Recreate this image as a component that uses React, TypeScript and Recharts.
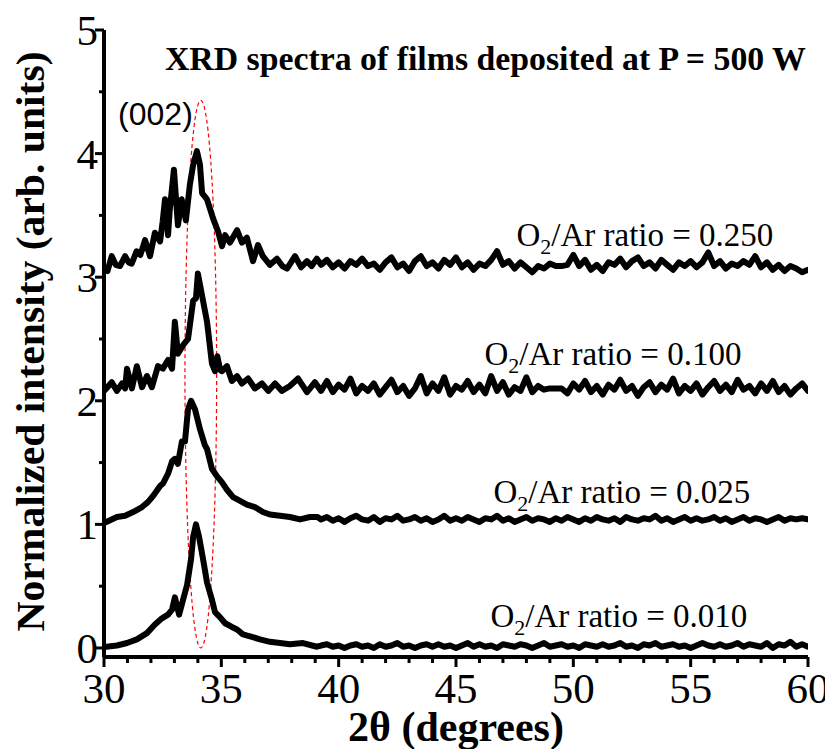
import React from 'react';
import { LineChart, Line, XAxis, YAxis, ReferenceArea, ReferenceDot } from 'recharts';

// ---- axis configuration ----
const X_DOMAIN: [number, number] = [30, 60];
const Y_DOMAIN: [number, number] = [-0.073, 5];
const X_TICKS = [30,31,32,33,34,35,36,37,38,39,40,41,42,43,44,45,46,47,48,49,50,51,52,53,54,55,56,57,58,59,60];
const Y_TICKS = [0,0.5,1,1.5,2,2.5,3,3.5,4,4.5,5];

// ---- peak regions (2θ, intensity) ----
const peak250: [number, number][] = [
  [30.0,3.07],[30.15,3.05],[30.33,3.17],[30.5,3.10],[30.68,3.09],[30.9,3.17],[31.05,3.12],[31.18,3.11],
  [31.39,3.21],[31.55,3.18],[31.67,3.25],[31.75,3.30],[31.96,3.17],[32.17,3.36],[32.39,3.29],[32.5,3.45],
  [32.6,3.63],[32.73,3.34],[32.8,3.54],[32.98,3.87],[33.15,3.42],[33.31,3.63],[33.49,3.46],[33.66,3.75],
  [33.8,3.91],[33.96,4.02],[34.09,3.91],[34.18,3.68],[34.39,3.63],[34.64,3.48],[34.86,3.37],[35.03,3.25],
  [35.16,3.34],[35.37,3.28],[35.67,3.38],[35.88,3.28],[36.09,3.32],[36.35,3.13],[36.56,3.26],[36.77,3.17],
  [37.07,3.10],[37.37,3.15],[37.6,3.09],[37.8,3.07],[38.14,3.17],[38.4,3.08],[38.65,3.13],[38.85,3.09],[39.07,3.15],
];
const peak100: [number, number][] = [
  [30.0,2.08],[30.1,2.10],[30.33,2.15],[30.55,2.08],[30.77,2.14],[30.9,2.10],[30.98,2.26],[31.19,2.10],
  [31.4,2.28],[31.62,2.11],[31.83,2.20],[32.04,2.11],[32.3,2.28],[32.51,2.26],[32.73,2.33],[32.9,2.26],
  [33.02,2.64],[33.15,2.38],[33.37,2.45],[33.58,2.50],[33.8,2.81],[33.92,2.83],[34.0,3.03],[34.18,2.85],
  [34.39,2.64],[34.6,2.30],[34.73,2.24],[34.83,2.36],[34.95,2.25],[35.03,2.24],[35.24,2.28],[35.45,2.16],
  [35.67,2.20],[35.88,2.14],[36.14,2.18],[36.43,2.10],[36.73,2.14],[37.0,2.08],[37.29,2.14],[37.58,2.08],
  [37.92,2.12],[38.27,2.18],[38.65,2.07],[38.99,2.15],
];
const peak025: [number, number][] = [
  [30.0,1.01],[30.1,1.02],[30.55,1.06],[30.9,1.07],[31.24,1.10],[31.62,1.14],[31.87,1.18],[32.09,1.23],
  [32.39,1.31],[32.51,1.33],[32.73,1.41],[32.9,1.51],[33.02,1.53],[33.15,1.49],[33.32,1.67],[33.45,1.67],
  [33.58,1.93],[33.71,2.00],[33.88,1.93],[34.09,1.77],[34.3,1.64],[34.39,1.61],[34.6,1.45],[34.81,1.39],
  [35.03,1.34],[35.24,1.28],[35.5,1.22],[35.8,1.19],[36.09,1.16],[36.43,1.14],[36.77,1.10],[37.07,1.08],
  [37.5,1.07],[37.92,1.06],[38.35,1.04],[38.78,1.06],[39.1,1.06],
];
const peak010: [number, number][] = [
  [30.0,0.01],[30.1,0.01],[30.55,0.02],[30.98,0.04],[31.4,0.07],[31.83,0.12],[32.17,0.19],[32.47,0.24],
  [32.73,0.27],[32.9,0.31],[33.02,0.41],[33.2,0.27],[33.37,0.39],[33.54,0.51],[33.71,0.72],[33.8,0.90],
  [33.92,1.00],[34.05,0.90],[34.22,0.72],[34.39,0.53],[34.6,0.39],[34.73,0.29],[34.94,0.25],[35.16,0.20],
  [35.45,0.17],[35.67,0.15],[35.92,0.11],[36.3,0.09],[36.65,0.07],[37.07,0.05],[37.5,0.04],[37.92,0.03],
  [38.48,0.04],[39.07,0.01],
];

// ---- flat tails, sampled from 39.25° to 60° every 0.25° ----
const TAIL_START = 39.25;
const TAIL_STEP = 0.25;
const tail250 = [
  3.10,3.14,3.08,3.12, 3.07,3.13,3.10,3.15, 3.09,3.11,3.06,3.12, 3.16,3.08,3.11,3.05,
  3.13,3.17,3.09,3.12, 3.07,3.14,3.10,3.16, 3.08,3.12,3.06,3.11, 3.09,3.14,3.21,3.10,
  3.13,3.07,3.12,3.08, 3.04,3.09,3.07,3.11, 3.09,3.09,3.10,3.18, 3.09,3.14,3.06,3.10,
  3.05,3.12,3.10,3.15, 3.08,3.13,3.16,3.09, 3.12,3.07,3.14,3.10, 3.06,3.12,3.09,3.13,
  3.08,3.12,3.20,3.09, 3.13,3.07,3.11,3.09, 3.13,3.10,3.17,3.08, 3.12,3.06,3.10,3.05,
  3.09,3.07,3.04,3.06,
];
const tail100 = [
  2.08,2.16,2.07,2.13, 2.09,2.18,2.06,2.12, 2.08,2.14,2.05,2.11, 2.17,2.07,2.12,2.04,
  2.10,2.20,2.06,2.14, 2.08,2.19,2.05,2.12, 2.09,2.16,2.07,2.13, 2.06,2.20,2.08,2.15,
  2.05,2.11,2.08,2.19, 2.07,2.12,2.09,2.10, 2.10,2.10,2.06,2.14, 2.09,2.16,2.07,2.12,
  2.05,2.13,2.09,2.17, 2.08,2.12,2.04,2.11, 2.15,2.07,2.13,2.09, 2.18,2.06,2.12,2.08,
  2.14,2.05,2.11,2.16, 2.08,2.13,2.07,2.17, 2.09,2.12,2.06,2.14, 2.08,2.16,2.07,2.12,
  2.05,2.10,2.14,2.08,
];
const tail025 = [
  1.04,1.06,1.03,1.05, 1.02,1.05,1.07,1.04, 1.03,1.06,1.02,1.05, 1.04,1.07,1.03,1.04,
  1.06,1.03,1.05,1.02, 1.04,1.07,1.03,1.05, 1.03,1.06,1.04,1.02, 1.05,1.04,1.07,1.03,
  1.05,1.02,1.04,1.06, 1.03,1.05,1.04,1.02, 1.05,1.03,1.06,1.04, 1.02,1.05,1.03,1.06,
  1.04,1.03,1.05,1.02, 1.06,1.04,1.03,1.05, 1.04,1.07,1.03,1.05, 1.02,1.04,1.06,1.03,
  1.05,1.03,1.04,1.06, 1.03,1.05,1.02,1.04, 1.06,1.03,1.05,1.04, 1.02,1.04,1.06,1.03,
  1.05,1.04,1.05,1.04,
];
const tail010 = [
  0.02,0.03,0.01,0.02, 0.00,0.02,0.03,0.01, 0.02,0.00,0.03,0.01, 0.02,0.04,0.01,0.02,
  0.00,0.02,0.03,0.01, 0.03,0.01,0.02,0.00, 0.02,0.04,0.01,0.03, 0.01,0.02,0.00,0.03,
  0.02,0.01,0.03,0.02, 0.00,0.02,0.04,0.01, 0.02,0.03,0.01,0.02, 0.00,0.03,0.02,0.01,
  0.03,0.01,0.02,0.04, 0.01,0.02,0.00,0.03, 0.02,0.04,0.01,0.02, 0.03,0.01,0.02,0.00,
  0.02,0.04,0.02,0.01, 0.03,0.01,0.02,0.04, 0.01,0.03,0.02,0.01, 0.04,0.00,0.03,0.02,
  0.05,0.01,0.03,0.01,
];

const SERIES_LABELS = ['0.250', '0.100', '0.025', '0.010'];
const LABEL_POS: [number, number][] = [[53.05, 3.25], [51.69, 2.29], [52.07, 1.17], [51.94, 0.17]];

const build = (peak: [number, number][], tail: number[]) => [
  ...peak.map(([x, y]) => ({ x, y })),
  ...tail.map((y, i) => ({ x: TAIL_START + i * TAIL_STEP, y })),
];
const SERIES = [build(peak250, tail250), build(peak100, tail100), build(peak025, tail025), build(peak010, tail010)];

const SERIF = "'Liberation Serif', 'Times New Roman', serif";
const SANS = "'Liberation Sans', Arial, sans-serif";

const BottomTick = (p: any) => {
  const v = p.payload.value;
  const major = v % 5 === 0;
  return (
    <g>
      <line x1={p.x} x2={p.x} y1={p.y} y2={p.y + (major ? 10 : 6)} stroke="#000" strokeWidth={3} />
      {major && (
        <text x={p.x} y={p.y + 46} textAnchor="middle" fontFamily={SERIF} fontSize={43} fill="#000">{v}</text>
      )}
    </g>
  );
};
const TopTick = (p: any) => {
  const v = p.payload.value;
  const major = v % 5 === 0;
  return <line x1={p.x} x2={p.x} y1={p.y} y2={p.y + (major ? 9 : 5)} stroke="#000" strokeWidth={3} />;
};
const LeftTick = (p: any) => {
  const v = p.payload.value;
  const major = Number.isInteger(v);
  return (
    <g>
      <line x1={p.x} x2={p.x - (major ? 9 : 5)} y1={p.y} y2={p.y} stroke="#000" strokeWidth={3} />
      {major && (
        <text x={p.x - 6} y={p.y + 15} textAnchor="end" fontFamily={SERIF} fontSize={43} fill="#000">{v}</text>
      )}
    </g>
  );
};
const RightTick = (p: any) => {
  const v = p.payload.value;
  const major = Number.isInteger(v);
  return <line x1={p.x} x2={p.x + (major ? 8 : 5)} y1={p.y} y2={p.y} stroke="#000" strokeWidth={3} />;
};

const RatioLabel = (value: string) => (p: any) => (
  <text x={p.cx} y={p.cy} textAnchor="middle" fontFamily={SERIF} fontSize={33} fill="#000">
    O<tspan fontSize={22} dy={8}>2</tspan><tspan dy={-8}>/Ar ratio = {value}</tspan>
  </text>
);

export default function App() {
  return (
    <div style={{ position: 'absolute', left: 0, top: 0, background: '#fff' }}>
      <LineChart width={825} height={749} margin={{ top: 30, right: 17, bottom: 0, left: 0 }}>
        <XAxis
          dataKey="x" type="number" domain={X_DOMAIN} ticks={X_TICKS} interval={0}
          height={92} tickSize={0} tickMargin={0} tick={BottomTick}
          axisLine={{ stroke: '#000', strokeWidth: 4 }} allowDataOverflow
          label={{
            content: (lp: any) => (
              <text x={lp.viewBox.x + lp.viewBox.width / 2} y={lp.viewBox.y + 84} textAnchor="middle"
                fontFamily={SERIF} fontWeight="bold" fontSize={42} fill="#000">2θ (degrees)</text>
            ),
          }}
        />
        <XAxis
          xAxisId="top" orientation="top" type="number" domain={X_DOMAIN} ticks={X_TICKS} interval={0}
          height={0} tickSize={0} tickMargin={0} tick={TopTick}
          axisLine={{ stroke: '#000', strokeWidth: 4 }} allowDataOverflow
        />
        <YAxis
          type="number" domain={Y_DOMAIN} ticks={Y_TICKS} interval={0} width={104}
          tickSize={0} tickMargin={0} tick={LeftTick}
          axisLine={{ stroke: '#000', strokeWidth: 4 }} allowDataOverflow
          label={{
            content: (lp: any) => {
              const cx = 44;
              const cy = lp.viewBox.y + lp.viewBox.height / 2 - 2;
              return (
                <text x={cx} y={cy} transform={`rotate(-90 ${cx} ${cy})`} textAnchor="middle"
                  fontFamily={SERIF} fontWeight="bold" fontSize={41} textLength={580} lengthAdjust="spacingAndGlyphs"
                  fill="#000">
                  Normalized intensity (arb. units)
                </text>
              );
            },
          }}
        />
        <YAxis
          yAxisId="right" orientation="right" type="number" domain={Y_DOMAIN} ticks={Y_TICKS} interval={0}
          width={0} tickSize={0} tickMargin={0} tick={RightTick}
          axisLine={{ stroke: '#000', strokeWidth: 4 }} allowDataOverflow
        />
        <ReferenceArea
          x1={33.45} x2={34.8} y1={0} y2={4.43} ifOverflow="visible"
          shape={(p: any) => (
            <ellipse cx={p.x + p.width / 2} cy={p.y + p.height / 2} rx={p.width / 2} ry={p.height / 2}
              fill="none" stroke="#ff0000" strokeWidth={1.2} strokeDasharray="4 3" />
          )}
        />
        {SERIES.map((d, i) => (
          <Line key={SERIES_LABELS[i]} data={d} dataKey="y" type="linear" stroke="#000" strokeWidth={6}
            strokeLinejoin="round" strokeLinecap="round" dot={false} activeDot={false} isAnimationActive={false} />
        ))}
        {SERIES_LABELS.map((v, i) => (
          <ReferenceDot key={'lab' + v} x={LABEL_POS[i][0]} y={LABEL_POS[i][1]} r={0} ifOverflow="visible" shape={RatioLabel(v)} />
        ))}
        <ReferenceDot x={59.91} y={4.68} r={0} ifOverflow="visible"
          shape={(p: any) => (
            <text x={p.cx} y={p.cy} textAnchor="end" fontFamily={SERIF} fontWeight="bold" fontSize={34}
              textLength={641} lengthAdjust="spacingAndGlyphs" fill="#000">
              XRD spectra of films deposited at P = 500 W
            </text>
          )}
        />
        <ReferenceDot x={30.6} y={4.23} r={0} ifOverflow="visible"
          shape={(p: any) => (
            <text x={p.cx} y={p.cy} textAnchor="start" fontFamily={SANS} fontSize={32} fill="#000">(002)</text>
          )}
        />
      </LineChart>
    </div>
  );
}
